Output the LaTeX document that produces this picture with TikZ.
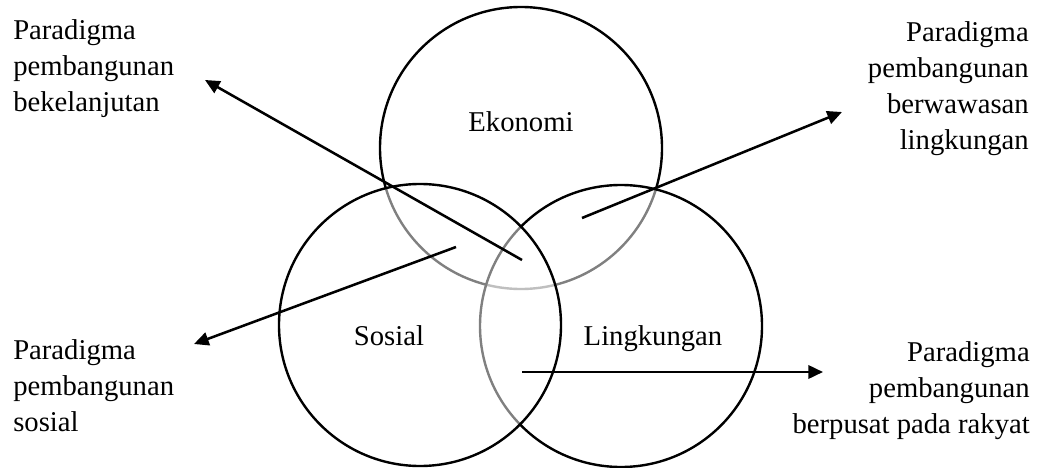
\documentclass[tikz,border=0pt]{standalone}
\usepackage{fontspec}
\setmainfont{Liberation Serif}
\usetikzlibrary{arrows.meta}

\tikzset{
  ring/.style={circle, draw, line width=1.8pt, fill=white, fill opacity=0.5,
    minimum size=211.5pt, inner sep=0pt},
  leftnote/.style={anchor=north west, align=left, inner sep=0pt},
  rightnote/.style={anchor=north east, align=right, inner sep=0pt},
  arr/.style={-{Triangle[length=11pt,width=10pt]}, line width=1.9pt}
}

\begin{document}
\begin{tikzpicture}[x=0.75pt, y=-0.75pt, font=\fontsize{21.5}{27}\selectfont]
    \useasboundingbox (0,0) rectangle (1037,467);
    % the three pillars
    \node [ring] (eko) at (521,148) {};
    \node [ring] (ling) at (621,326) {};
    \node [ring] (sos) at (420,325) {};
    \node [anchor=base] (eko_t) at (521,131) {Ekonomi};
    \node [anchor=base] (sos_t) at (389,345) {Sosial};
    \node [anchor=base] (ling_t) at (653,345) {Lingkungan};
    % paradigms
    \node [leftnote] (p_lanjut) at (13,19) {Paradigma\\pembangunan\\bekelanjutan};
    \node [rightnote] (p_wawas) at (1029,21) {Paradigma\\pembangunan\\berwawasan\\lingkungan};
    \node [leftnote] (p_sosial) at (13,339) {Paradigma\\pembangunan\\sosial};
    \node [rightnote] (p_rakyat) at (1030,341) {Paradigma\\pembangunan\\berpusat pada rakyat};
    \coordinate (a_1) at (522,260);
    \coordinate (b_1) at (205,80);
    \coordinate (a_2) at (582,218);
    \coordinate (b_2) at (842,112);
    \coordinate (a_3) at (456,247);
    \coordinate (b_3) at (194,344);
    \coordinate (a_4) at (522,372);
    \coordinate (b_4) at (823,372);
      \path[arr]
      (a_1) edge (b_1)
      (a_2) edge (b_2)
      (a_3) edge (b_3)
      (a_4) edge (b_4)
      ;
  \end{tikzpicture}
\end{document}
